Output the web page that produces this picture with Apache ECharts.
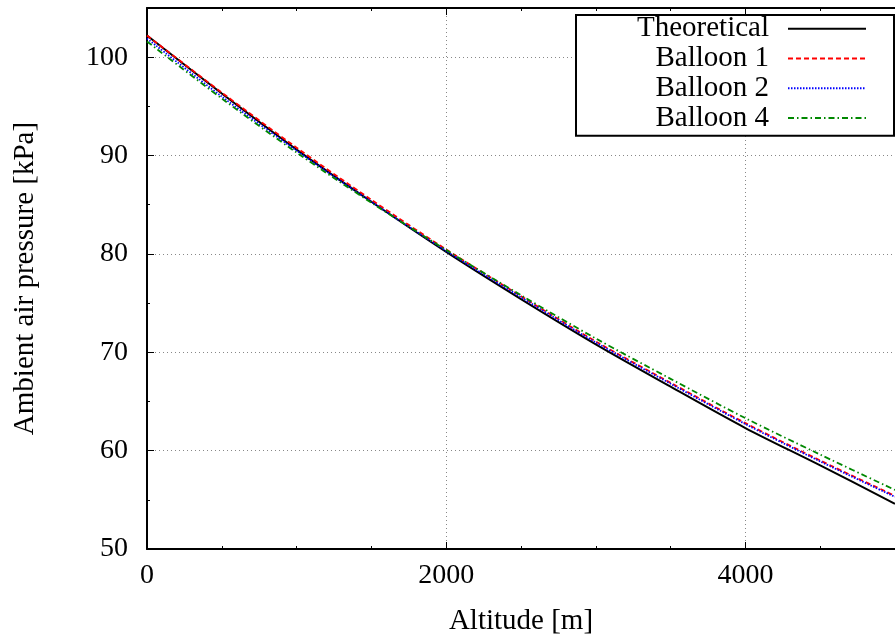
<!DOCTYPE html>
<html>
<head>
<meta charset="utf-8">
<script src="https://cdn.jsdelivr.net/npm/echarts@6/dist/echarts.min.js"></script>
<style>
  html, body { margin: 0; padding: 0; background: #fff; }
  #chart { width: 895px; height: 642px; }
</style>
</head>
<body>
<div id="chart"></div>
<script>
// altitude in m, pressure in kPa
var altitude = [0, 500, 1000, 1500, 2000, 2500, 3000, 3500, 4000, 4500, 5000]
var theoretical = [102.2, 96.3, 90.6, 85.3, 80.2, 75.4, 70.8, 66.5, 62.3, 58.5, 54.6]
var balloon1 = [102.2, 96.4, 90.8, 85.5, 80.45, 75.7, 71.1, 66.9, 62.8, 59.0, 55.4]
var balloon2 = [101.9, 96.0, 90.5, 85.3, 80.3, 75.6, 71.0, 66.8, 62.7, 58.9, 55.3]
var balloon4 = [101.6, 95.8, 90.3, 85.2, 80.4, 75.8, 71.4, 67.3, 63.3, 59.6, 56.0]
var seriesNames = ['Theoretical', 'Balloon 1', 'Balloon 2', 'Balloon 4']

var font = 'Liberation Serif'

function pairs(ys) {
  return altitude.map(function (x, i) { return [x, ys[i]] })
}

var chart = echarts.init(document.getElementById('chart'))

var option = {
  animation: false,
  backgroundColor: '#fff',
  textStyle: { fontFamily: font },
  grid: { left: 147, right: -6, top: 8, bottom: 93 },
  legend: {
    orient: 'vertical',
    left: 576,
    top: 15,
    align: 'right',
    itemWidth: 78,
    itemHeight: 14,
    itemGap: 0,
    padding: [-1, 27, 3, 23],
    borderColor: '#000',
    borderWidth: 2,
    backgroundColor: '#fff',
    itemStyle: { opacity: 0 },
    textStyle: {
      fontFamily: font,
      fontSize: 29,
      color: '#000',
      width: 170,
      align: 'right',
      lineHeight: 29.7,
      padding: [0, 14, 0, 0]
    },
    data: seriesNames
  },
  xAxis: [
    {
      type: 'value',
      min: 0,
      max: 5000,
      interval: 2000,
      name: 'Altitude [m]',
      nameLocation: 'middle',
      nameGap: 58,
      nameTextStyle: { fontFamily: font, fontSize: 29, color: '#000' },
      axisLine: { show: true, lineStyle: { color: '#000', width: 2 } },
      axisTick: { show: true, inside: true, length: 7, lineStyle: { color: '#000', width: 1 } },
      minorTick: { show: true, splitNumber: 4, length: 3, lineStyle: { color: '#000', width: 1 } },
      axisLabel: {
        margin: 13,
        fontFamily: font,
        fontSize: 28,
        color: '#000',
        showMaxLabel: false,
        formatter: function (v) { return v % 2000 === 0 ? String(v) : '' }
      },
      splitLine: { show: true, lineStyle: { color: '#888', type: [1, 3], width: 1 } }
    },
    {
      type: 'value',
      position: 'top',
      min: 0,
      max: 5000,
      interval: 2000,
      axisLine: { show: true, lineStyle: { color: '#000', width: 2 } },
      axisTick: { show: true, inside: true, length: 7, lineStyle: { color: '#000', width: 1 } },
      minorTick: { show: true, splitNumber: 4, length: 3, lineStyle: { color: '#000', width: 1 } },
      axisLabel: { show: false },
      splitLine: { show: false }
    }
  ],
  yAxis: {
    type: 'value',
    min: 50,
    max: 105,
    interval: 10,
    name: 'Ambient air pressure [kPa]',
    nameLocation: 'middle',
    nameGap: 107,
    nameTextStyle: { fontFamily: font, fontSize: 29, color: '#000' },
    axisLine: { show: true, lineStyle: { color: '#000', width: 2 } },
    axisTick: { show: true, inside: true, length: 7, lineStyle: { color: '#000', width: 1 } },
    minorTick: { show: true, splitNumber: 2, length: 3, lineStyle: { color: '#000', width: 1 } },
    axisLabel: {
      margin: 19,
      fontFamily: font,
      fontSize: 28,
      color: '#000',
      showMaxLabel: false,
      formatter: function (v) { return v % 10 === 0 ? String(v) : '' }
    },
    splitLine: { show: true, lineStyle: { color: '#888', type: [1, 3], width: 1 } }
  },
  series: [
    {
      name: seriesNames[0],
      type: 'line',
      data: pairs(theoretical),
      smooth: 0.3,
      symbol: 'none',
      lineStyle: { color: '#000', width: 2, type: 'solid' },
      itemStyle: { color: '#000' }
    },
    {
      name: seriesNames[1],
      type: 'line',
      data: pairs(balloon1),
      smooth: 0.3,
      symbol: 'none',
      lineStyle: { color: '#ff0000', width: 1.8, type: [5, 3] },
      itemStyle: { color: '#ff0000' }
    },
    {
      name: seriesNames[2],
      type: 'line',
      data: pairs(balloon2),
      smooth: 0.3,
      symbol: 'none',
      lineStyle: { color: '#0000ff', width: 1.8, type: [1.5, 1.5] },
      itemStyle: { color: '#0000ff' }
    },
    {
      name: seriesNames[3],
      type: 'line',
      data: pairs(balloon4),
      smooth: 0.3,
      symbol: 'none',
      lineStyle: { color: '#008800', width: 1.8, type: [6, 3, 1.5, 3] },
      itemStyle: { color: '#008800' }
    }
  ]
}

chart.setOption(option)
</script>
</body>
</html>
